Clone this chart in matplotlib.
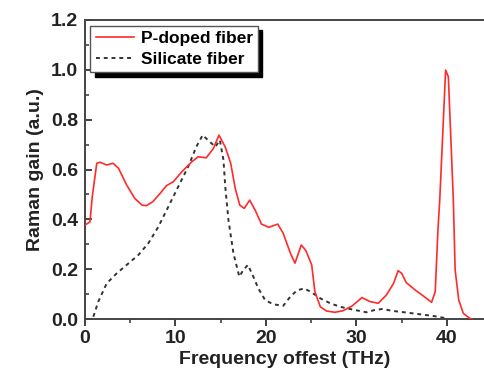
import matplotlib
matplotlib.use("Agg")
import matplotlib.pyplot as plt
from matplotlib.ticker import MultipleLocator

plt.rcParams['font.family'] = ['Liberation Sans', 'DejaVu Sans']

# P-doped fiber (red solid)
p_freq = [0.0, 0.55, 0.8, 1.3, 1.66, 2.4, 3.1, 3.7, 4.6, 5.5, 6.3, 6.8, 7.5, 8.3, 9.0,
          9.76, 10.7, 11.8, 12.5, 13.4, 14.2, 14.8, 15.5, 16.1, 16.6, 17.1, 17.6, 18.2,
          18.8, 19.5, 20.3, 21.3, 21.9, 22.7, 23.2, 23.9, 24.4, 25.05, 25.4, 26.0, 26.7,
          27.6, 28.5, 29.5, 30.6, 31.5, 32.4, 33.3, 34.1, 34.6, 35.0, 35.5, 36.5, 37.4,
          38.3, 38.7, 39.0, 39.2, 39.85, 40.15, 40.7, 40.9, 41.3, 41.8, 42.5, 42.8]
p_gain = [0.377, 0.39, 0.49, 0.625, 0.629, 0.618, 0.625, 0.605, 0.538, 0.484, 0.457, 0.455,
          0.471, 0.504, 0.535, 0.551, 0.591, 0.631, 0.651, 0.647, 0.685, 0.738, 0.69, 0.625,
          0.524, 0.457, 0.444, 0.477, 0.437, 0.381, 0.368, 0.381, 0.344, 0.264, 0.224, 0.297,
          0.275, 0.217, 0.11, 0.049, 0.032, 0.027, 0.033, 0.052, 0.086, 0.07, 0.063, 0.096,
          0.143, 0.194, 0.183, 0.146, 0.116, 0.092, 0.067, 0.11, 0.357, 0.478, 0.999, 0.972,
          0.478, 0.197, 0.076, 0.023, 0.003, 0.0]

# Silicate fiber (black dashed)
s_freq = [0.92, 1.47, 2.4, 3.5, 4.6, 5.9, 7.0, 8.1, 9.2, 10.3, 11.4, 12.3, 13.0, 13.8,
          14.4, 14.9, 15.3, 15.5, 15.85, 16.4, 17.05, 17.5, 18.0, 18.6, 19.15, 19.9, 20.8,
          21.9, 22.7, 23.4, 24.2, 24.9, 26.0, 27.1, 28.2, 29.3, 30.4, 31.1, 32.0, 32.8, 34.1,
          35.5, 37.0, 38.5, 39.6, 40.0]
s_gain = [0.009, 0.07, 0.143, 0.183, 0.217, 0.257, 0.304, 0.37, 0.45, 0.531, 0.611, 0.691,
          0.738, 0.711, 0.691, 0.718, 0.638, 0.531, 0.397, 0.264, 0.17, 0.197, 0.217, 0.17,
          0.123, 0.076, 0.059, 0.053, 0.09, 0.114, 0.123, 0.11, 0.083, 0.063, 0.049, 0.04,
          0.032, 0.027, 0.036, 0.04, 0.032, 0.026, 0.019, 0.012, 0.005, 0.002]

x_ticks = [0, 10, 20, 30, 40]
y_ticks = [0.0, 0.2, 0.4, 0.6, 0.8, 1.0, 1.2]
labels = ['P-doped fiber', 'Silicate fiber']

fig = plt.figure(figsize=(4.85, 3.78), dpi=100)
ax = fig.add_axes([85/485, 1 - 319/378, (485 - 85)/485, (319 - 20)/378])

ax.plot(p_freq, p_gain, color='#ff2a2a', lw=1.2, label=labels[0], zorder=3)
ax.plot(s_freq, s_gain, color='#333333', lw=1.4, ls=(0, (2, 2)), label=labels[1], zorder=2)

ax.set_xlim(0, 44.2)
ax.set_ylim(0, 1.2)
ax.set_xticks(x_ticks)
ax.set_yticks(y_ticks)
ax.set_yticklabels([f"{v:.1f}" for v in y_ticks])
ax.xaxis.set_minor_locator(MultipleLocator(5))
ax.yaxis.set_minor_locator(MultipleLocator(0.1))
ax.tick_params(axis='x', which='major', direction='out', length=5, width=1.3, color='#333333', pad=3)
ax.tick_params(axis='x', which='minor', direction='out', length=3, width=1.1, color='#333333')
ax.tick_params(axis='y', which='major', direction='in', length=5, width=1.3, color='#333333', pad=5)
ax.tick_params(axis='y', which='minor', direction='in', length=3, width=1.1, color='#333333')
for lab in ax.get_xticklabels() + ax.get_yticklabels():
    lab.set_fontsize(14)
    lab.set_fontweight('bold')
    lab.set_color('#222222')

for side in ['left', 'bottom', 'top']:
    ax.spines[side].set_linewidth(1.4)
    ax.spines[side].set_color('#444444')
ax.spines['right'].set_visible(False)

ax.set_xlabel('Frequency offest (THz)', fontsize=14, fontweight='bold', color='#222222', labelpad=3)
ax.set_ylabel('Raman gain (a.u.)', fontsize=14, fontweight='bold', color='#222222', labelpad=5)

leg = ax.legend(loc='upper left', bbox_to_anchor=(0.005, 0.993),
                prop={'weight': 'bold', 'size': 12.5}, frameon=True, fancybox=False,
                shadow={'color': 'black', 'alpha': 1.0, 'ox': 3, 'oy': -3},
                handlelength=2.2, handletextpad=0.4,
                borderpad=0.3, labelspacing=0.35, borderaxespad=0.2)
leg.get_frame().set_edgecolor('#555555')
leg.get_frame().set_linewidth(1.0)

fig.savefig('out.png', dpi=100)
